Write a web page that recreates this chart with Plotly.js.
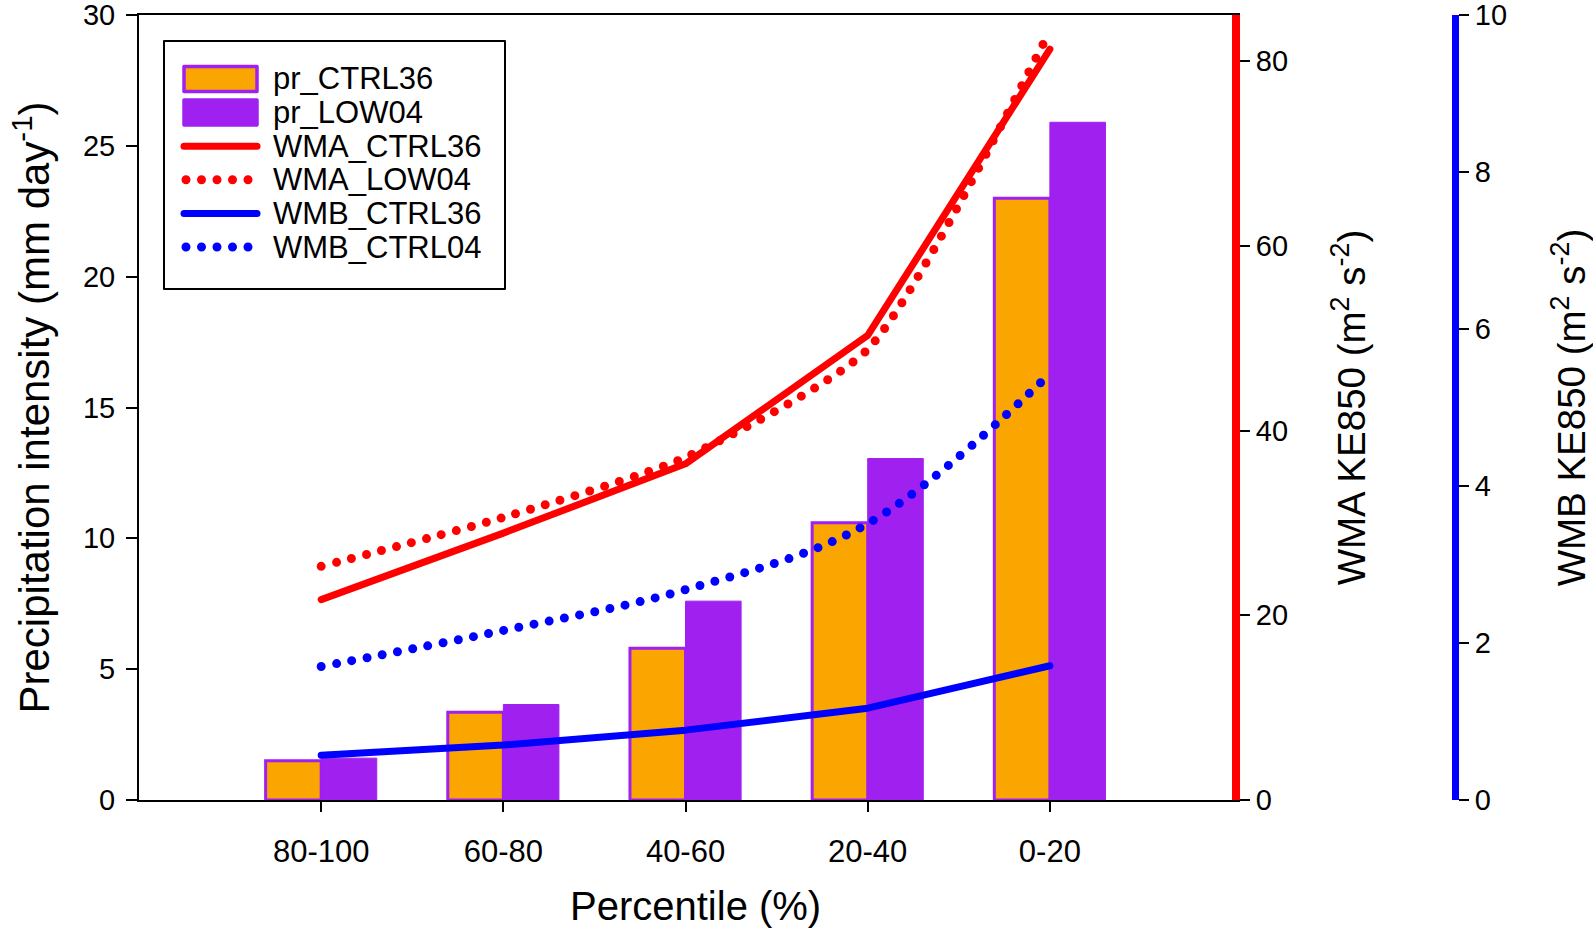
<!DOCTYPE html>
<html>
<head>
<meta charset="utf-8">
<script src="https://cdn.plot.ly/plotly-3.0.1.min.js"></script>
<style>
  html, body { margin: 0; padding: 0; background: #fff; }
  #chart { width: 1593px; height: 934px; }
  .js-line { stroke-linecap: round !important; stroke-linejoin: round !important; }
  .shapelayer path { stroke-linecap: round !important; stroke-linejoin: round !important; }
</style>
</head>
<body>
<div id="chart"></div>
<script>
// ---- data ----
const categories = ['80-100', '60-80', '40-60', '20-40', '0-20'];
const prCTRL36  = [1.5, 3.35, 5.8, 10.6, 23.0];
const prLOW04   = [1.6, 3.65, 7.6, 13.05, 25.9];
const wmaCTRL36 = [21.7, 28.9, 36.4, 50.3, 81.3];
const wmaLOW04  = [25.3, 30.6, 37.1, 48.8, 83.3];
const wmbCTRL36 = [0.57, 0.70, 0.89, 1.17, 1.71];
const wmbCTRL04 = [1.70, 2.16, 2.68, 3.52, 5.43];
const seriesNames = ['pr_CTRL36', 'pr_LOW04', 'WMA_CTRL36', 'WMA_LOW04', 'WMB_CTRL36', 'WMB_CTRL04'];
const leftTicks  = [0, 5, 10, 15, 20, 25, 30];
const redTicks   = [0, 20, 40, 60, 80];
const blueTicks  = [0, 2, 4, 6, 8, 10];

const ORANGE = '#FAA500';
const PURPLE = '#A020F0';
const RED = '#FF0000';
const BLUE = '#0000FF';
const FONT = 'Liberation Sans, Arial, sans-serif';
const DOT = '0px,15.5px';

const traces = [
  { type: 'bar', name: seriesNames[0], x: categories, y: prCTRL36, xaxis: 'x', yaxis: 'y',
    marker: { color: ORANGE, line: { color: PURPLE, width: 3 } } },
  { type: 'bar', name: seriesNames[1], x: categories, y: prLOW04, xaxis: 'x', yaxis: 'y',
    marker: { color: PURPLE, line: { color: PURPLE, width: 1 } } },
  { type: 'scatter', mode: 'lines', name: seriesNames[2], x: categories, y: wmaCTRL36, yaxis: 'y2',
    line: { color: RED, width: 7 } },
  { type: 'scatter', mode: 'lines', name: seriesNames[3], x: categories, y: wmaLOW04, yaxis: 'y2',
    line: { color: RED, width: 9, dash: DOT, shape: 'spline', smoothing: 0.6 } },
  { type: 'scatter', mode: 'lines', name: seriesNames[4], x: categories, y: wmbCTRL36, yaxis: 'y3',
    line: { color: BLUE, width: 7 } },
  { type: 'scatter', mode: 'lines', name: seriesNames[5], x: categories, y: wmbCTRL04, yaxis: 'y3',
    line: { color: BLUE, width: 9, dash: DOT, shape: 'spline', smoothing: 1 } }
];
traces.forEach(t => { t.showlegend = false; });

// ---- geometry of the page ----
const W = 1593, H = 934;
const M = { l: 139, r: 138, t: 15, b: 134 };
const PW = W - M.l - M.r, PH = H - M.t - M.b;
const px2x = p => (p - M.l) / PW;          // page px -> paper x
const px2y = p => (H - M.b - p) / PH;      // page px -> paper y

// ---- legend box drawn as layout shapes + annotations ----
const shapes = [];
const annotations = [];
shapes.push({ type: 'rect', xref: 'paper', yref: 'paper',
  x0: px2x(164), x1: px2x(505), y0: px2y(41), y1: px2y(289),
  line: { color: '#000', width: 2 }, fillcolor: '#fff', layer: 'above' });
const rowY = i => 79 + 33.6 * i;
const symX0 = 184, symX1 = 257, textX = 271;
traces.forEach((t, i) => {
  const yc = rowY(i);
  if (t.type === 'bar') {
    shapes.push({ type: 'rect', xref: 'paper', yref: 'paper',
      x0: px2x(symX0), x1: px2x(symX1), y0: px2y(yc - 12.5), y1: px2y(yc + 12.5),
      fillcolor: t.marker.color, line: { color: t.marker.line.color, width: 3.5 }, layer: 'above' });
  } else {
    shapes.push({ type: 'line', xref: 'paper', yref: 'paper',
      x0: px2x(t.line.dash ? symX0 + 2 : symX0), x1: px2x(symX1), y0: px2y(yc), y1: px2y(yc),
      line: { color: t.line.color, width: t.line.width, dash: t.line.dash || 'solid' }, layer: 'above' });
  }
  annotations.push({ xref: 'paper', yref: 'paper', x: px2x(textX), y: px2y(yc),
    xanchor: 'left', yanchor: 'middle', showarrow: false, text: t.name,
    font: { family: FONT, size: 31, color: '#000' } });
});

// x-axis title, placed where the reference shows it
annotations.push({ xref: 'paper', yref: 'paper', x: px2x(695), y: px2y(906),
  xanchor: 'center', yanchor: 'middle', showarrow: false, text: 'Percentile (%)',
  font: { family: FONT, size: 40, color: '#000' } });

const tickFont = { family: FONT, size: 29, color: '#000' };

const layout = {
  width: W, height: H,
  margin: { l: M.l, r: M.r, t: M.t, b: M.b, pad: 0 },
  paper_bgcolor: '#fff', plot_bgcolor: 'rgba(0,0,0,0)',
  font: { family: FONT, color: '#000' },
  barmode: 'group', bargap: 0.39, bargroupgap: 0,
  showlegend: false,
  shapes: shapes,
  annotations: annotations,
  xaxis: {
    domain: [0, 0.8306], type: 'category', range: [-1, 5],
    showline: true, linecolor: '#000', linewidth: 2, mirror: true,
    ticks: 'outside', ticklen: 10, tickwidth: 2, tickcolor: '#000',
    tickfont: { family: FONT, size: 31, color: '#000' }, ticklabelstandoff: 13,
    showgrid: false, zeroline: false
  },
  yaxis: {
    range: [0, 30], tickvals: leftTicks,
    showline: true, linecolor: '#000', linewidth: 2,
    ticks: 'outside', ticklen: 11, tickwidth: 2, tickcolor: '#000',
    tickfont: tickFont, ticklabelstandoff: 5, ticklabeloverflow: 'allow',
    showgrid: false, zeroline: false,
    title: { text: 'Precipitation intensity (mm day<sup>-1</sup>)', font: { family: FONT, size: 42, color: '#000' }, standoff: 20 }
  },
  yaxis2: {
    overlaying: 'y', side: 'right', anchor: 'x', range: [0, 85], tickvals: redTicks,
    showline: true, linecolor: RED, linewidth: 8,
    ticks: 'outside', ticklen: 10, tickwidth: 2, tickcolor: '#000',
    tickfont: tickFont, ticklabeloverflow: 'allow', showgrid: false, zeroline: false,
    title: { text: 'WMA KE850 (m<sup>2</sup> s<sup>-2</sup>)', font: { family: FONT, size: 38.5, color: '#000' }, standoff: 54 }
  },
  yaxis3: {
    overlaying: 'y', side: 'right', anchor: 'free', position: 1, range: [0, 10], tickvals: blueTicks,
    showline: true, linecolor: BLUE, linewidth: 7,
    ticks: 'outside', ticklen: 10, tickwidth: 2, tickcolor: '#000',
    tickfont: tickFont, ticklabeloverflow: 'allow', showgrid: false, zeroline: false,
    title: { text: 'WMB KE850 (m<sup>2</sup> s<sup>-2</sup>)', font: { family: FONT, size: 38.5, color: '#000' }, standoff: 70 }
  }
};

Plotly.newPlot('chart', traces, layout, { displayModeBar: false, staticPlot: true });
</script>
</body>
</html>
